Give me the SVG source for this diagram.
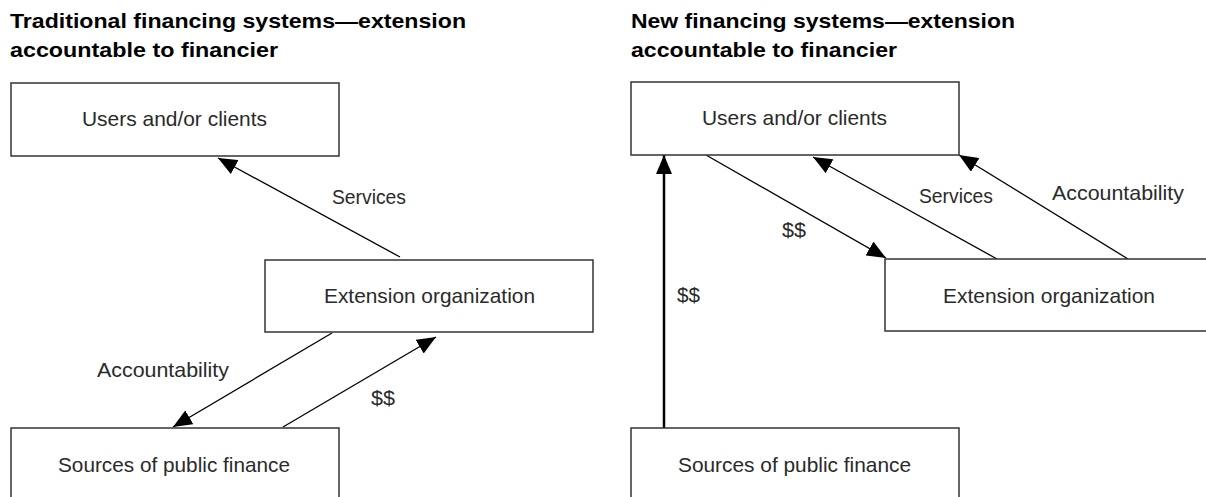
<svg xmlns="http://www.w3.org/2000/svg" width="1206" height="497" viewBox="0 0 1206 497">
<defs>
<marker id="ah" markerUnits="userSpaceOnUse" markerWidth="19" markerHeight="16" refX="19" refY="8" orient="auto" viewBox="0 0 19 16">
<path d="M0,0 L19,8 L0,16 z" fill="#000"/>
</marker>
<style>
.title{font-family:"Liberation Sans",Arial,sans-serif;font-weight:bold;font-size:20.5px;fill:#000}
.box{fill:#fff;stroke:#333;stroke-width:1.5}
.bt{font-family:"Liberation Sans",Arial,sans-serif;font-size:21px;fill:#2a2a2a}
.lbl{font-family:"Liberation Sans",Arial,sans-serif;font-size:21px;fill:#2a2a2a}
.ln{stroke:#000;stroke-width:1.3;fill:none}
.thick{stroke:#000;stroke-width:2.5;fill:none}
</style>
</defs>
<rect width="1206" height="497" fill="#fff"/>
<g id="titles">
<text class="title" x="10" y="28" textLength="456" lengthAdjust="spacingAndGlyphs">Traditional financing systems—extension</text>
<text class="title" x="10" y="57" textLength="268" lengthAdjust="spacingAndGlyphs">accountable to financier</text>
<text class="title" x="631" y="28" textLength="384" lengthAdjust="spacingAndGlyphs">New financing systems—extension</text>
<text class="title" x="631" y="57" textLength="266" lengthAdjust="spacingAndGlyphs">accountable to financier</text>
</g>
<g id="connectors">
<line class="ln" x1="400" y1="257" x2="218" y2="158" marker-end="url(#ah)"/>
<line class="ln" x1="332" y1="333" x2="173" y2="427" marker-end="url(#ah)"/>
<line class="ln" x1="283" y1="427" x2="436" y2="337" marker-end="url(#ah)"/>
<line class="thick" x1="664" y1="428" x2="664" y2="155" marker-end="url(#ah)"/>
<line class="ln" x1="706" y1="155" x2="886" y2="258" marker-end="url(#ah)"/>
<line class="ln" x1="997" y1="259" x2="813" y2="157" marker-end="url(#ah)"/>
<line class="ln" x1="1128" y1="259" x2="959" y2="155" marker-end="url(#ah)"/>
</g>
<g id="labels">
<text class="lbl" x="332" y="204" textLength="74" lengthAdjust="spacingAndGlyphs">Services</text>
<text class="lbl" x="97" y="377" textLength="132" lengthAdjust="spacingAndGlyphs">Accountability</text>
<text class="lbl" x="371" y="405" textLength="24" lengthAdjust="spacingAndGlyphs">$$</text>
<text class="lbl" x="782" y="237" textLength="24" lengthAdjust="spacingAndGlyphs">$$</text>
<text class="lbl" x="919" y="203" textLength="74" lengthAdjust="spacingAndGlyphs">Services</text>
<text class="lbl" x="1052" y="200" textLength="132" lengthAdjust="spacingAndGlyphs">Accountability</text>
<text class="lbl" x="677" y="302" textLength="23" lengthAdjust="spacingAndGlyphs">$$</text>
</g>
<g id="users-left">
<rect class="box" x="11" y="83" width="328" height="73"/>
<text class="bt" x="82" y="126" textLength="185" lengthAdjust="spacingAndGlyphs">Users and/or clients</text>
</g>
<g id="extension-left">
<rect class="box" x="265" y="260" width="328" height="72"/>
<text class="bt" x="324" y="303" textLength="211" lengthAdjust="spacingAndGlyphs">Extension organization</text>
</g>
<g id="sources-left">
<rect class="box" x="11" y="428" width="328" height="73"/>
<text class="bt" x="58" y="472" textLength="232" lengthAdjust="spacingAndGlyphs">Sources of public finance</text>
</g>
<g id="users-right">
<rect class="box" x="631" y="82" width="328" height="73"/>
<text class="bt" x="702" y="125" textLength="185" lengthAdjust="spacingAndGlyphs">Users and/or clients</text>
</g>
<g id="extension-right">
<rect class="box" x="885" y="259" width="328" height="72"/>
<text class="bt" x="943" y="303" textLength="212" lengthAdjust="spacingAndGlyphs">Extension organization</text>
</g>
<g id="sources-right">
<rect class="box" x="631" y="428" width="328" height="73"/>
<text class="bt" x="678" y="472" textLength="233" lengthAdjust="spacingAndGlyphs">Sources of public finance</text>
</g>
</svg>
